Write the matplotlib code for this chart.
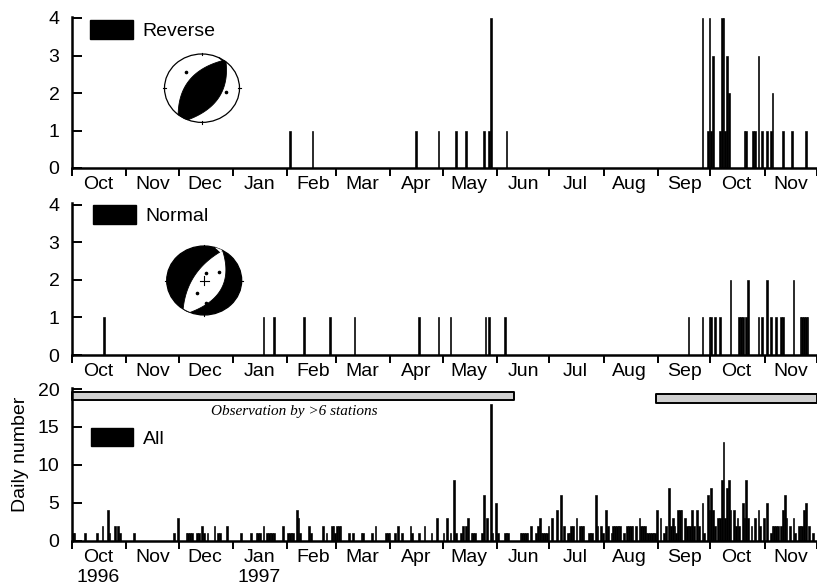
import numpy as np
import matplotlib
matplotlib.use('Agg')
import matplotlib.pyplot as plt
import matplotlib.dates as mdates
from matplotlib.ticker import NullFormatter, FuncFormatter
from matplotlib.patches import Polygon, Ellipse, Patch

plt.rcParams['font.family'] = ['Liberation Sans', 'DejaVu Sans']

# ---------------- data ----------------
START = np.datetime64('1996-10-01')
END = np.datetime64('1997-12-01')

# day offsets from 1 Oct 1996, daily number of events
rev_day = [124, 137, 196, 209, 219, 225, 235, 238, 239, 248,
           360, 363, 364, 365, 366, 370, 371, 372, 373, 374, 375,
           384, 385, 389, 390, 392, 394, 397, 399, 400, 406, 411, 419]
rev_cnt = [1, 1, 1, 1, 1, 1, 1, 1, 4, 1,
           4, 1, 4, 1, 3, 1, 4, 4, 1, 3, 2,
           1, 1, 1, 1, 3, 1, 1, 1, 2, 1, 1, 1]

nor_day = [18, 109, 115, 132, 147, 161, 198, 209, 216, 236, 238, 247,
           352, 360, 364, 365, 367, 370, 376, 381, 382, 383, 385, 386,
           392, 394, 397, 399, 402, 405, 406, 412, 416, 417, 418, 419, 420]
nor_cnt = [1, 1, 1, 1, 1, 1, 1, 1, 1, 1, 1, 1,
           1, 1, 1, 1, 1, 1, 2, 1, 1, 1, 1, 2,
           1, 1, 2, 1, 1, 1, 1, 2, 1, 1, 1, 1, 1]

all_day = [0, 1, 7, 14, 17, 20, 21, 24, 26, 27, 35,
           58, 60, 65, 66, 67, 68, 71, 72, 74, 75, 77, 81, 83, 84, 88, 96,
           102, 105, 106, 107, 109, 111, 112, 113, 114, 115, 120, 123, 124, 125, 126,
           128, 129, 130, 135, 136, 143, 145, 148, 149, 150, 151, 152, 153, 158, 160,
           165, 166, 171, 173, 179, 180, 181, 184, 186, 188, 193, 194, 198, 201, 205, 208,
           212, 214, 216, 218, 219, 222, 223, 225, 226, 228, 229, 230, 234, 235, 237,
           239, 240, 242, 243, 247, 248, 249,
           256, 257, 258, 259, 260, 262, 265, 266, 267, 268, 269, 270, 271, 272, 274,
           277, 279, 281, 283, 284, 285, 286, 288, 290, 291, 292, 295, 296, 297, 299,
           300, 302, 303, 305, 306, 308, 309, 310, 311, 312, 313, 315, 317, 318, 319,
           320, 322, 324, 325, 326, 327, 328, 329, 330, 331, 332, 333, 334, 336, 338,
           339, 341, 342, 343, 344, 345, 346, 347, 348, 350, 351, 352, 353, 354, 355,
           357, 358, 360, 361, 363, 364, 365, 366, 367, 369, 370, 371, 372, 373, 374,
           375, 376, 378, 379, 380, 381, 383, 384, 385, 386, 388, 390, 392, 393, 395,
           397, 399, 400, 401, 402, 403, 405, 406, 407, 408, 410, 412, 413, 415, 416,
           417, 418, 419, 421, 423]
all_cnt = [1, 1, 1, 1, 2, 4, 1, 2, 2, 1, 1,
           1, 3, 1, 1, 1, 1, 1, 1, 2, 1, 1, 2, 1, 1, 2, 1,
           1, 1, 1, 1, 2, 1, 1, 1, 1, 1, 2, 1, 1, 1, 1,
           4, 3, 1, 2, 1, 2, 1, 2, 2, 1, 2, 2, 2, 1, 1,
           1, 1, 1, 2, 1, 1, 1, 1, 2, 1, 2, 1, 1, 2, 1, 3,
           1, 3, 1, 8, 1, 1, 2, 2, 3, 1, 1, 1, 1, 6, 3,
           18, 1, 5, 1, 1, 1, 1,
           1, 1, 1, 1, 1, 2, 1, 2, 3, 1, 1, 1, 1, 2, 3,
           4, 6, 2, 1, 1, 2, 2, 3, 2, 2, 2, 1, 1, 1, 6,
           2, 2, 1, 4, 2, 1, 2, 2, 2, 2, 2, 1, 2, 2, 2,
           2, 2, 3, 2, 2, 2, 1, 1, 1, 1, 1, 1, 4, 3, 1,
           2, 7, 2, 3, 2, 1, 4, 4, 4, 3, 2, 2, 2, 4, 2,
           4, 2, 5, 1, 6, 4, 7, 4, 2, 3, 3, 8, 13, 3, 7,
           8, 4, 4, 2, 3, 2, 5, 3, 8, 3, 2, 3, 4, 2, 3,
           5, 1, 2, 2, 2, 2, 2, 4, 6, 3, 2, 3, 1, 2, 2,
           2, 4, 5, 2, 1]

obs_start = ['1996-10-01', '1997-08-31']
obs_end = ['1997-06-11', '1997-12-01']
obs_low = [18.5, 18.2]
obs_high = [19.6, 19.3]

panel_names = ['Reverse', 'Normal', 'All']

# ---------------- figure ----------------
W, H = 817, 587
fig = plt.figure(figsize=(W / 100, H / 100), dpi=100)


def fbox(x0, y0, x1, y1):
    return [x0 / W, 1 - y1 / H, (x1 - x0) / W, (y1 - y0) / H]


ax1 = fig.add_axes(fbox(72, 16.5, 817, 168))
ax2 = fig.add_axes(fbox(72, 203, 817, 355))
ax3 = fig.add_axes(fbox(72, 387.5, 817, 540.7))
axes = [ax1, ax2, ax3]

series = [(rev_day, rev_cnt), (nor_day, nor_cnt), (all_day, all_cnt)]
for ax, (d, c) in zip(axes, series):
    dates = START + np.array(d, dtype='timedelta64[D]')
    ax.bar(dates, c, width=1.0, align='edge', color='black',
           edgecolor='black', linewidth=0.45)

label_font = 14


def bottom_fmt(x, pos):
    dt = mdates.num2date(x)
    s = dt.strftime('%b')
    if dt.year == 1996 and dt.month == 10:
        s += '\n1996'
    if dt.year == 1997 and dt.month == 1:
        s += '\n1997'
    return s


for i, ax in enumerate(axes):
    ax.set_xlim(START, END)
    for s in ['top', 'right']:
        ax.spines[s].set_visible(False)
    for s in ['left', 'bottom']:
        ax.spines[s].set_linewidth(1.8)
    ax.xaxis.set_major_locator(mdates.MonthLocator())
    ax.xaxis.set_major_formatter(NullFormatter())
    ax.xaxis.set_minor_locator(mdates.MonthLocator(bymonthday=16))
    if i == 2:
        ax.xaxis.set_minor_formatter(FuncFormatter(bottom_fmt))
    else:
        ax.xaxis.set_minor_formatter(mdates.DateFormatter('%b'))
    ax.tick_params(axis='x', which='major', direction='out', length=6, width=1.4)
    ax.tick_params(axis='x', which='minor', length=0, pad=6, labelsize=label_font)
    ax.tick_params(axis='y', direction='in', length=7, width=1.4, pad=9,
                   labelsize=label_font)

for ax in (ax1, ax2):
    ax.set_ylim(0, 4.04)
    ax.set_yticks([0, 1, 2, 3, 4])
ax3.set_ylim(0, 20.2)
ax3.set_yticks([0, 5, 10, 15, 20])

ax3.set_ylabel('Daily number', fontsize=label_font)
ax3.yaxis.set_label_coords(-0.058, 0.565)

# legends
for ax, name, anchor in zip(axes, panel_names,
                            [(0.0242, 0.977), (0.028, 0.985), (0.025, 0.738)]):
    ax.legend(handles=[Patch(facecolor='black', edgecolor='black', label=name)],
              loc='upper left', bbox_to_anchor=anchor, frameon=False,
              borderpad=0, borderaxespad=0, handlelength=2.2, handleheight=1.1,
              handletextpad=0.5, fontsize=label_font)

# observation periods
for s, e, lo, hi in zip(obs_start, obs_end, obs_low, obs_high):
    x0 = mdates.date2num(np.datetime64(s))
    x1 = mdates.date2num(np.datetime64(e))
    ax3.broken_barh([(x0, x1 - x0)], (lo, hi - lo), facecolors='#cfcfcf',
                    edgecolors='black', linewidth=1.4, clip_on=False)
ax3.text(mdates.date2num(np.datetime64('1997-02-05')), 17.1,
         'Observation by >6 stations', ha='center', va='center',
         fontsize=11, style='italic', family=['Liberation Serif', 'DejaVu Serif'])


# ---------------- focal mechanisms ----------------
def qbez(p0, c, p2, n=50):
    t = np.linspace(0, 1, n)[:, None]
    p0, c, p2 = map(np.asarray, (p0, c, p2))
    return (1 - t) ** 2 * p0 + 2 * (1 - t) * t * c + t ** 2 * p2


def arc(a0, a1, n=20):
    a = np.radians(np.linspace(a0, a1, n))
    return np.column_stack([np.cos(a), np.sin(a)])


def ang(p):
    return np.degrees(np.arctan2(p[1], p[0]))


def ball_axes(cx, cy, rx, ry):
    bx = fig.add_axes(fbox(cx - rx, cy - ry, cx + rx, cy + ry))
    bx.set_xlim(-1, 1)
    bx.set_ylim(-1, 1)
    bx.axis('off')
    return bx


def cardinal(bx):
    for dx, dy in [(0, 1), (0, -1), (1, 0), (-1, 0)]:
        bx.plot([dx * 0.97, dx * 1.04], [dy * 0.97, dy * 1.04], color='black',
                lw=0.8, clip_on=False)


# reverse
bx = ball_axes(202, 88.2, 37.5, 34.2)
bx.add_patch(Ellipse((0, 0), 2, 2, facecolor='white', edgecolor='black', lw=0.9,
                     clip_on=False))
P0L, P2L = (-0.636, -0.772), (0.58, 0.815)
P0R, P2R = (-0.379, -0.925), (0.64, 0.77)
left = qbez(P0L, (-0.62, 0.48), P2L)
right = qbez(P2R, (0.77, -0.46), P0R)
poly = np.vstack([left, arc(ang(P2L), ang(P2R)), right, arc(ang(P0R), ang(P0L))])
bx.add_patch(Polygon(poly, closed=True, facecolor='black', edgecolor='black', lw=0.6))
bx.plot([0.455, 0.62], [0.89, 0.74], color='black', lw=0.8)
bx.plot([-0.43, 0.64], [0.47, -0.1], 'o', color='black', ms=1.6)
cardinal(bx)

# normal
bx = ball_axes(204.2, 280.5, 37.5, 34.5)
bx.add_patch(Ellipse((0, 0), 2, 2, facecolor='black', edgecolor='black', lw=0.9,
                     clip_on=False))
Q0L, Q2 = (-0.562, -0.827), (0.49, 0.87)
Q0R = (-0.378, -0.926)
left = qbez(Q0L, (-0.46, 0.285), Q2)
right = qbez(Q2, (0.87, -0.42), Q0R)
poly = np.vstack([left, right, arc(ang(Q0R), ang(Q0L))])
bx.add_patch(Polygon(poly, closed=True, facecolor='white', edgecolor='black', lw=0.6))
bx.add_patch(Polygon([(0.30, 0.95), (0.47, 0.88), (0.45, 0.80)], closed=True,
                     facecolor='white', edgecolor='white', lw=0.3))
bx.plot([-0.12, 0.12], [0, 0], color='black', lw=0.8)
bx.plot([0, 0], [-0.13, 0.13], color='black', lw=0.8)
bx.plot([0.04, 0.40, -0.2, 0.04], [0.22, 0.26, -0.37, -0.66], 'o', color='black',
        ms=1.6)
cardinal(bx)

fig.savefig('out.png', dpi=100)
